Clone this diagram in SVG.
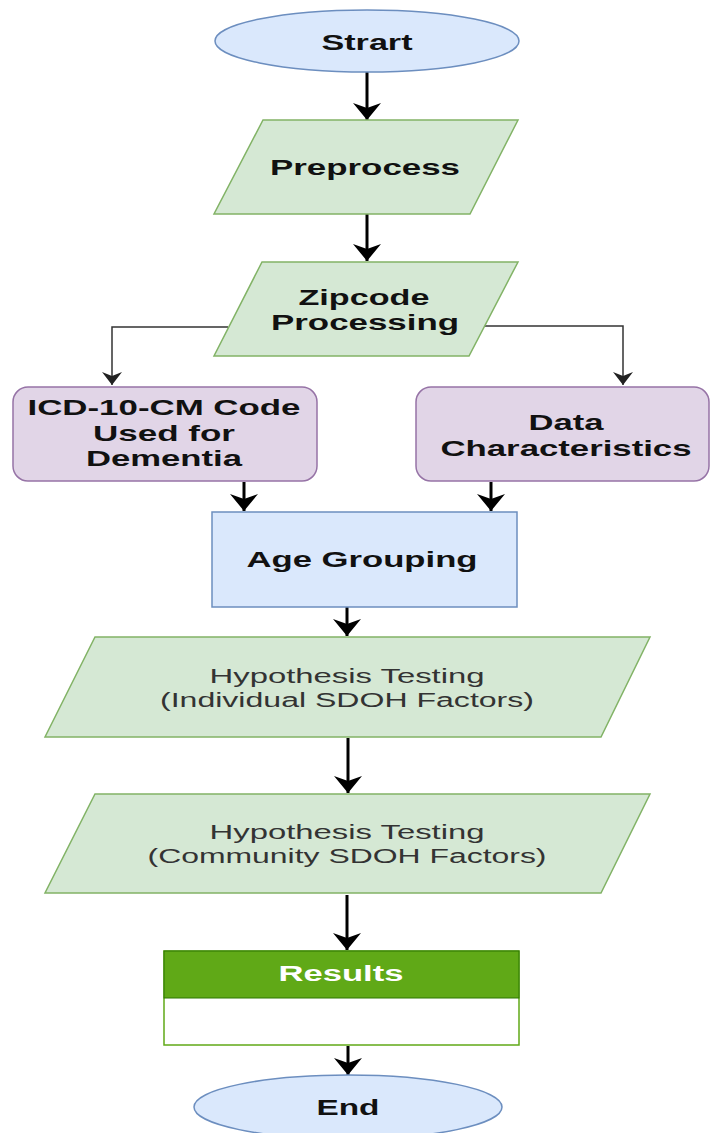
<svg xmlns="http://www.w3.org/2000/svg" width="710" height="1133" viewBox="0 0 710 1133">
<defs>
<style>
.t{font-family:"Liberation Sans",Arial,sans-serif;font-weight:bold;font-size:22px;fill:#111;text-anchor:middle}
.h{font-family:"Liberation Sans",Arial,sans-serif;font-size:20px;fill:#333;text-anchor:middle}
.green{fill:#d5e8d4;stroke:#82b366;stroke-width:1.5}
.purple{fill:#e1d5e7;stroke:#9673a6;stroke-width:1.5}
.blue{fill:#dae8fc;stroke:#6c8ebf;stroke-width:1.5}
.thick{stroke:#000;stroke-width:3;fill:none}
.thin{stroke:#333;stroke-width:1.5;fill:none}
</style>
<marker id="ah" viewBox="0 -15 18 30" refX="17" refY="0" markerWidth="18" markerHeight="30" orient="auto" markerUnits="userSpaceOnUse">
<path d="M0,-14 L17,0 L0,14 L5,0 Z" fill="#000"/>
</marker>
<marker id="ahs" viewBox="0 -10 14 20" refX="13" refY="0" markerWidth="14" markerHeight="20" orient="auto" markerUnits="userSpaceOnUse">
<path d="M0,-10 L13,0 L0,10 L4,0 Z" fill="#222"/>
</marker>
</defs>
<rect width="710" height="1133" fill="#fff"/>
<g id="connectors">
<line class="thick" x1="367" y1="72" x2="367" y2="120" marker-end="url(#ah)"/>
<line class="thick" x1="367" y1="214" x2="367" y2="261" marker-end="url(#ah)"/>
<polyline class="thin" points="228,327 112,327 112,385" marker-end="url(#ahs)"/>
<polyline class="thin" points="484,326 623,326 623,385" marker-end="url(#ahs)"/>
<line class="thick" x1="244" y1="482" x2="244" y2="511" marker-end="url(#ah)"/>
<line class="thick" x1="491" y1="482" x2="491" y2="511" marker-end="url(#ah)"/>
<line class="thick" x1="347" y1="607" x2="347" y2="636" marker-end="url(#ah)"/>
<line class="thick" x1="348" y1="738" x2="348" y2="793" marker-end="url(#ah)"/>
<line class="thick" x1="347" y1="895" x2="347" y2="950" marker-end="url(#ah)"/>
<line class="thick" x1="348" y1="1046" x2="348" y2="1075" marker-end="url(#ah)"/>
</g>
<g id="start">
<ellipse cx="367" cy="41" rx="152" ry="31" class="blue"/>
<text class="t" x="367" y="50" textLength="91" lengthAdjust="spacingAndGlyphs">Strart</text>
</g>
<g id="preprocess">
<polygon class="green" points="263,120 518,120 470,214 214,214"/>
<text class="t" x="365" y="175" textLength="190" lengthAdjust="spacingAndGlyphs">Preprocess</text>
</g>
<g id="zipcode">
<polygon class="green" points="262,262 518,262 469,356 214,356"/>
<text class="t" x="364" y="305" textLength="131" lengthAdjust="spacingAndGlyphs">Zipcode</text>
<text class="t" x="365" y="330" textLength="188" lengthAdjust="spacingAndGlyphs">Processing</text>
</g>
<g id="icd">
<rect class="purple" x="13" y="387" width="304" height="94" rx="15"/>
<text class="t" x="164" y="415" textLength="273" lengthAdjust="spacingAndGlyphs">ICD-10-CM Code</text>
<text class="t" x="164" y="441" textLength="142" lengthAdjust="spacingAndGlyphs">Used for</text>
<text class="t" x="164" y="466" textLength="156" lengthAdjust="spacingAndGlyphs">Dementia</text>
</g>
<g id="data">
<rect class="purple" x="416" y="387" width="293" height="94" rx="15"/>
<text class="t" x="566" y="430" textLength="75" lengthAdjust="spacingAndGlyphs">Data</text>
<text class="t" x="566" y="456" textLength="251" lengthAdjust="spacingAndGlyphs">Characteristics</text>
</g>
<g id="age">
<rect class="blue" x="212" y="512" width="305" height="95"/>
<text class="t" x="362" y="567" textLength="231" lengthAdjust="spacingAndGlyphs">Age Grouping</text>
</g>
<g id="hyp1">
<polygon class="green" points="95,637 650,637 601,737 45,737"/>
<text class="h" x="347" y="683" textLength="275" lengthAdjust="spacingAndGlyphs">Hypothesis Testing</text>
<text class="h" x="347" y="707" textLength="374" lengthAdjust="spacingAndGlyphs">(Individual SDOH Factors)</text>
</g>
<g id="hyp2">
<polygon class="green" points="95,794 650,794 601,893 45,893"/>
<text class="h" x="347" y="839" textLength="275" lengthAdjust="spacingAndGlyphs">Hypothesis Testing</text>
<text class="h" x="347" y="863" textLength="399" lengthAdjust="spacingAndGlyphs">(Community SDOH Factors)</text>
</g>
<g id="results">
<rect x="164" y="951" width="355" height="94" fill="#ffffff" stroke="#60a917" stroke-width="1.5"/>
<rect x="164" y="951" width="355" height="47" fill="#60a917" stroke="#2d7600" stroke-width="1"/>
<text class="t" x="341" y="981" textLength="125" lengthAdjust="spacingAndGlyphs" style="fill:#fff">Results</text>
</g>
<g id="end">
<ellipse cx="348" cy="1107" rx="154" ry="32" class="blue"/>
<text class="t" x="348" y="1115" textLength="63" lengthAdjust="spacingAndGlyphs">End</text>
</g>
</svg>
